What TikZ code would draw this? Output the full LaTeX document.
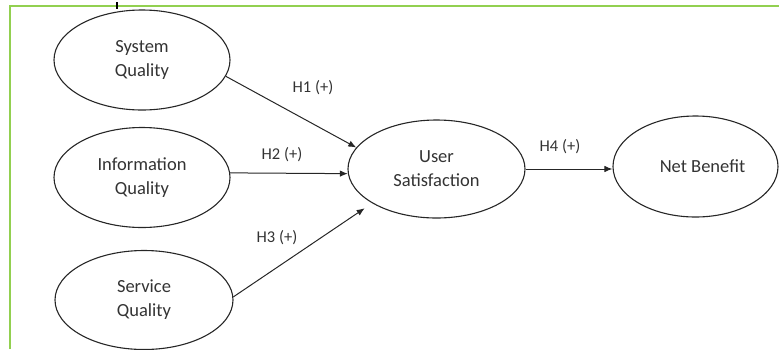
\documentclass[tikz,border=0pt]{standalone}
\usepackage{fontspec}
\setmainfont{Carlito}
\usetikzlibrary{shapes.geometric,arrows.meta}
\definecolor{framegreen}{HTML}{92D050}
\definecolor{txt}{HTML}{333333}
\tikzset{
  construct/.style={ellipse, draw=black!85, line width=1.1pt, inner sep=0pt,
    minimum width=176pt, minimum height=100pt, align=center, text=txt,
    font=\fontsize{18.5}{24}\selectfont},
  path/.style={draw=black!85, line width=1pt, -{Latex[length=8pt,width=6.5pt]}},
  hlabel/.style={text=txt, font=\fontsize{16.5}{20}\selectfont, inner sep=0pt}
}
\begin{document}
\begin{tikzpicture}[x=1pt,y=-1pt]
\useasboundingbox (0,0) rectangle (779,349);
\draw[framegreen, line width=2pt] (10,349) -- (10,6) -- (779,6);
\coordinate (tickt) at (117,2);
\coordinate (tickb) at (117,9);
\draw[black, line width=1.2pt] (tickt) -- (tickb);

\node[construct] (sq) at (142,60) {System\\Quality};
\node[construct] (iq) at (142,177.5) {Information\\Quality};
\node[construct, minimum width=178pt, minimum height=99pt] (sv) at (144,300) {Service\\Quality};
\node[construct, minimum width=177pt, minimum height=98pt] (us) at (436.5,169) {User\\Satisfaction};
\node[construct, minimum width=165pt, minimum height=101pt] (nb) at (695.5,166.5) {\hspace*{14pt}Net Benefit};

\draw[path] (sq.-11) -- (us.165);
\draw[path] (iq.3) -- (us.183);
\draw[path, shorten >=9pt] (sv.2) -- (us.208);
\draw[path] (us.east) -- (us.east -| nb.west);

\node[hlabel] (h1) at (313,88) {H1 (+)};
\node[hlabel] (h2) at (282,155) {H2 (+)};
\node[hlabel] (h3) at (277,238) {H3 (+)};
\node[hlabel] (h4) at (560,147) {H4 (+)};
\end{tikzpicture}
\end{document}
